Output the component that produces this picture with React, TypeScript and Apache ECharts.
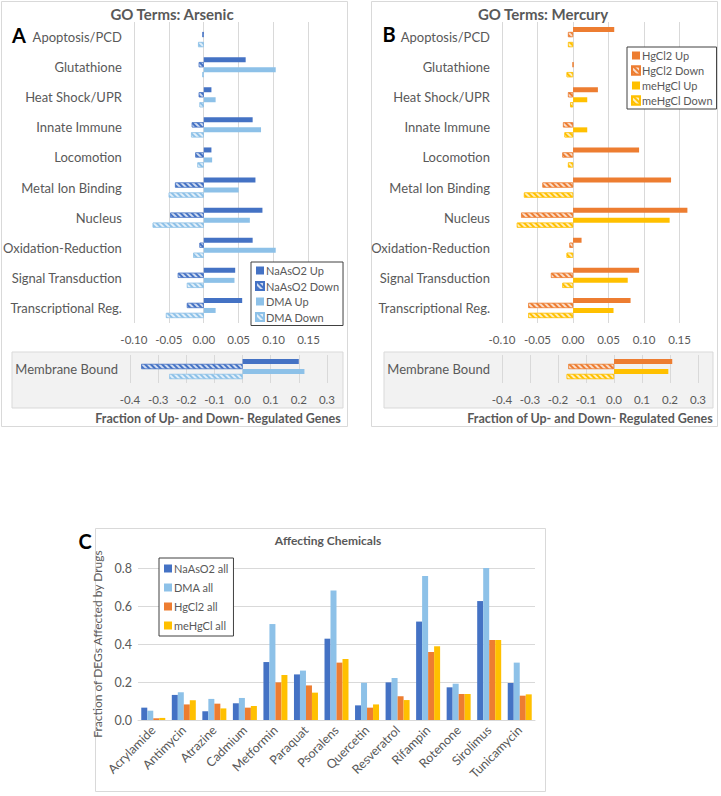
import React, { useEffect, useRef } from 'react';
import * as echarts from 'echarts';

// ---------- Data ----------
const goTerms = [
  'Apoptosis/PCD', 'Glutathione', 'Heat Shock/UPR', 'Innate Immune', 'Locomotion',
  'Metal Ion Binding', 'Nucleus', 'Oxidation-Reduction', 'Signal Transduction', 'Transcriptional Reg.',
];
const membraneCat = ['Membrane Bound'];

// Panel A (Arsenic)
const naAsO2Up = [0, 0.060, 0.011, 0.070, 0.011, 0.074, 0.084, 0.070, 0.045, 0.055];
const naAsO2Down = [-0.002, -0.007, -0.007, -0.017, -0.012, -0.041, -0.048, -0.006, -0.037, -0.024];
const dmaUp = [0, 0.103, 0.017, 0.082, 0.012, 0.050, 0.066, 0.103, 0.044, 0.017];
const dmaDown = [-0.008, -0.002, -0.006, -0.018, -0.009, -0.050, -0.073, -0.015, -0.024, -0.054];
const naAsO2UpMem = [0.20];
const naAsO2DownMem = [-0.36];
const dmaUpMem = [0.22];
const dmaDownMem = [-0.26];

// Panel B (Mercury)
const hgCl2Up = [0.058, 0, 0.035, 0, 0.093, 0.138, 0.161, 0.012, 0.093, 0.081];
const hgCl2Down = [-0.007, 0, -0.007, -0.014, -0.015, -0.043, -0.073, -0.005, -0.031, -0.063];
const meHgClUp = [0, 0, 0.020, 0.020, 0, 0, 0.136, 0, 0.077, 0.057];
const meHgClDown = [-0.007, -0.009, -0.004, -0.012, -0.007, -0.069, -0.079, -0.009, -0.015, -0.063];
const hgCl2UpMem = [0.208];
const hgCl2DownMem = [-0.163];
const meHgClUpMem = [0.194];
const meHgClDownMem = [-0.169];

// Panel C (Affecting chemicals)
const chemicals = [
  'Acrylamide', 'Antimycin', 'Atrazine', 'Cadmium', 'Metformin', 'Paraquat', 'Psoralens',
  'Quercetin', 'Resveratrol', 'Rifampin', 'Rotenone', 'Sirolimus', 'Tunicamycin',
];
const naAsO2All = [0.065, 0.132, 0.046, 0.088, 0.305, 0.240, 0.428, 0.077, 0.198, 0.518, 0.172, 0.626, 0.195];
const dmaAll = [0.049, 0.146, 0.111, 0.116, 0.505, 0.260, 0.681, 0.196, 0.221, 0.758, 0.191, 0.805, 0.302];
const hgCl2All = [0.009, 0.082, 0.086, 0.065, 0.198, 0.182, 0.302, 0.065, 0.125, 0.358, 0.137, 0.421, 0.128];
const meHgClAll = [0.011, 0.104, 0.061, 0.074, 0.237, 0.144, 0.321, 0.082, 0.105, 0.388, 0.137, 0.421, 0.135];

// ---------- Styles ----------
const C_NA = '#4472C4';
const C_DMA = '#8DC1E8';
const C_HG = '#ED7D31';
const C_ME = '#FFC000';
const TXT = '#595959';
const GRID = '#D9D9D9';
const FONT = 'Lato, "Open Sans", sans-serif';

const hatch = {
  symbol: 'rect',
  symbolSize: 1,
  color: 'rgba(255,255,255,0.75)',
  dashArrayX: [1, 0],
  dashArrayY: [1.6, 1.6],
  rotation: Math.PI / 4,
};

function solidStyle(color: string) {
  return { color };
}
function hatchStyle(color: string) {
  return { color, borderColor: color, borderWidth: 0.6, decal: hatch };
}

function fmtMain(v: number) {
  const k = Math.round(v / 0.05);
  return Math.abs(v - k * 0.05) < 1e-6 ? (Math.abs(v) < 1e-9 ? '0.00' : v.toFixed(2)) : '';
}
function fmtMem(v: number) {
  const k = Math.round(v / 0.1);
  return Math.abs(v - k * 0.1) < 1e-6 ? (Math.abs(v) < 1e-9 ? '0.0' : v.toFixed(1)) : '';
}

function valueAxis(gridIndex: number, min: number, max: number, interval: number, fmt: (v: number) => string) {
  return {
    type: 'value',
    gridIndex,
    min,
    max,
    interval,
    axisLine: { show: false },
    axisTick: { show: false },
    axisLabel: { formatter: fmt, color: TXT, fontSize: 11.5, fontFamily: FONT, margin: 10 },
    splitLine: { show: true, showMaxLine: false, lineStyle: { color: GRID, width: 1 } },
  };
}
function catAxisY(gridIndex: number, data: string[]) {
  return {
    type: 'category',
    gridIndex,
    data,
    inverse: true,
    axisLine: { show: false },
    axisTick: { show: false },
    axisLabel: { color: TXT, fontSize: 13, fontFamily: FONT, margin: 12 },
    splitLine: { show: false },
  };
}

function hbar(name: string, data: number[], xi: number, yi: number, style: any) {
  return {
    type: 'bar',
    name,
    data,
    xAxisIndex: xi,
    yAxisIndex: yi,
    barWidth: 5,
    barGap: '0%',
    itemStyle: style,
  };
}
function vbar(name: string, data: number[], style: any) {
  return {
    type: 'bar',
    name,
    data,
    xAxisIndex: 4,
    yAxisIndex: 4,
    barWidth: 6,
    barGap: '0%',
    itemStyle: style,
  };
}

function legendAt(left: number, top: number, data: string[], gap: number, pad: number[]) {
  return {
    left,
    top,
    orient: 'vertical',
    data,
    icon: 'rect',
    itemWidth: 8,
    itemHeight: 8,
    itemGap: gap,
    padding: pad,
    selectedMode: false,
    borderColor: '#404040',
    borderWidth: 1,
    backgroundColor: '#fff',
    textStyle: { color: TXT, fontSize: 11, fontFamily: FONT, padding: [0, 0, 0, -3] },
  };
}

export default function App() {
  const ref = useRef<HTMLDivElement>(null);

  useEffect(() => {
    if (!ref.current) return;
    const chart = echarts.init(ref.current, undefined, { renderer: 'svg' });
    const option: any = {
      animation: false,
      backgroundColor: '#fff',
      textStyle: { fontFamily: FONT },
      grid: [
        { left: 130, top: 22, width: 206.5, height: 301 },
        { left: 130, top: 355, width: 211, height: 28 },
        { left: 502, top: 22, width: 206, height: 301 },
        { left: 502, top: 355, width: 210, height: 28 },
        { left: 138, top: 568, width: 397, height: 152 },
      ],
      xAxis: [
        valueAxis(0, -0.1, 0.19, 0.05, fmtMain),
        valueAxis(1, -0.4, 0.35, 0.1, fmtMem),
        valueAxis(2, -0.1, 0.19, 0.05, fmtMain),
        valueAxis(3, -0.4, 0.35, 0.1, fmtMem),
        {
          type: 'category',
          gridIndex: 4,
          data: chemicals,
          axisLine: { show: true, lineStyle: { color: GRID } },
          axisTick: { show: false },
          axisLabel: { rotate: 45, color: TXT, fontSize: 12.5, fontFamily: FONT, margin: 8, interval: 0 },
        },
      ],
      yAxis: [
        catAxisY(0, goTerms),
        catAxisY(1, membraneCat),
        catAxisY(2, goTerms),
        catAxisY(3, membraneCat),
        {
          type: 'value',
          gridIndex: 4,
          min: 0,
          max: 0.8,
          interval: 0.2,
          name: 'Fraction of DEGs Affected by Drugs',
          nameLocation: 'middle',
          nameGap: 28,
          nameTextStyle: { color: TXT, fontSize: 12, fontFamily: FONT },
          axisLine: { show: false },
          axisTick: { show: false },
          axisLabel: { formatter: (v: number) => v.toFixed(1), color: TXT, fontSize: 12.5, fontFamily: FONT, margin: 6 },
          splitLine: { show: true, lineStyle: { color: GRID } },
        },
      ],
      legend: [
        legendAt(251, 262, ['NaAsO2 Up', 'NaAsO2 Down', 'DMA Up', 'DMA Down'], 4.5, [3, 4, 3, 4]),
        legendAt(627, 47, ['HgCl2 Up', 'HgCl2 Down', 'meHgCl Up', 'meHgCl Down'], 4, [3, 4, 3, 4]),
        legendAt(159, 558, ['NaAsO2 all', 'DMA all', 'HgCl2 all', 'meHgCl all'], 8, [5, 5, 5, 5]),
      ],
      series: [
        hbar('NaAsO2 Up', naAsO2Up, 0, 0, solidStyle(C_NA)),
        hbar('NaAsO2 Down', naAsO2Down, 0, 0, hatchStyle(C_NA)),
        hbar('DMA Up', dmaUp, 0, 0, solidStyle(C_DMA)),
        hbar('DMA Down', dmaDown, 0, 0, hatchStyle(C_DMA)),
        hbar('NaAsO2 Up', naAsO2UpMem, 1, 1, solidStyle(C_NA)),
        hbar('NaAsO2 Down', naAsO2DownMem, 1, 1, hatchStyle(C_NA)),
        hbar('DMA Up', dmaUpMem, 1, 1, solidStyle(C_DMA)),
        hbar('DMA Down', dmaDownMem, 1, 1, hatchStyle(C_DMA)),
        hbar('HgCl2 Up', hgCl2Up, 2, 2, solidStyle(C_HG)),
        hbar('HgCl2 Down', hgCl2Down, 2, 2, hatchStyle(C_HG)),
        hbar('meHgCl Up', meHgClUp, 2, 2, solidStyle(C_ME)),
        hbar('meHgCl Down', meHgClDown, 2, 2, hatchStyle(C_ME)),
        hbar('HgCl2 Up', hgCl2UpMem, 3, 3, solidStyle(C_HG)),
        hbar('HgCl2 Down', hgCl2DownMem, 3, 3, hatchStyle(C_HG)),
        hbar('meHgCl Up', meHgClUpMem, 3, 3, solidStyle(C_ME)),
        hbar('meHgCl Down', meHgClDownMem, 3, 3, hatchStyle(C_ME)),
        vbar('NaAsO2 all', naAsO2All, solidStyle(C_NA)),
        vbar('DMA all', dmaAll, solidStyle(C_DMA)),
        vbar('HgCl2 all', hgCl2All, solidStyle(C_HG)),
        vbar('meHgCl all', meHgClAll, solidStyle(C_ME)),
      ],
      graphic: [
        { type: 'rect', z: -10, shape: { x: 12, y: 352, width: 331, height: 56 }, style: { fill: '#F2F2F2', stroke: GRID, lineWidth: 1 } },
        { type: 'rect', z: -10, shape: { x: 384, y: 352, width: 329, height: 56 }, style: { fill: '#F2F2F2', stroke: GRID, lineWidth: 1 } },
        { type: 'rect', z: -10, shape: { x: 1.5, y: 1.5, width: 346, height: 425 }, style: { fill: 'none', stroke: GRID, lineWidth: 1 } },
        { type: 'rect', z: -10, shape: { x: 371.5, y: 1.5, width: 346, height: 425 }, style: { fill: 'none', stroke: GRID, lineWidth: 1 } },
        { type: 'rect', z: -10, shape: { x: 95.5, y: 528.5, width: 450, height: 263 }, style: { fill: 'none', stroke: GRID, lineWidth: 1 } },
        { type: 'text', x: 172, y: 14, style: { text: 'GO Terms: Arsenic', fill: TXT, font: `bold 15px ${FONT}`, align: 'center', verticalAlign: 'middle' } },
        { type: 'text', x: 543, y: 14, style: { text: 'GO Terms: Mercury', fill: TXT, font: `bold 15px ${FONT}`, align: 'center', verticalAlign: 'middle' } },
        { type: 'text', x: 19, y: 35, style: { text: 'A', fill: '#000', font: `bold 20px ${FONT}`, align: 'center', verticalAlign: 'middle' } },
        { type: 'text', x: 389, y: 34, style: { text: 'B', fill: '#000', font: `bold 20px ${FONT}`, align: 'center', verticalAlign: 'middle' } },
        { type: 'text', x: 85, y: 541, style: { text: 'C', fill: '#000', font: `bold 20px ${FONT}`, align: 'center', verticalAlign: 'middle' } },
        { type: 'text', x: 218, y: 418, style: { text: 'Fraction of Up- and Down- Regulated Genes', fill: TXT, font: `bold 12.5px ${FONT}`, align: 'center', verticalAlign: 'middle' } },
        { type: 'text', x: 590, y: 418, style: { text: 'Fraction of Up- and Down- Regulated Genes', fill: TXT, font: `bold 12.5px ${FONT}`, align: 'center', verticalAlign: 'middle' } },
        { type: 'text', x: 328, y: 540, style: { text: 'Affecting Chemicals', fill: TXT, font: `bold 12px ${FONT}`, align: 'center', verticalAlign: 'middle' } },
      ],
    };
    chart.setOption(option);
    return () => chart.dispose();
  }, []);

  return (
    <div
      ref={ref}
      style={{ position: 'absolute', left: 0, top: 0, width: 721, height: 796 }}
    />
  );
}
